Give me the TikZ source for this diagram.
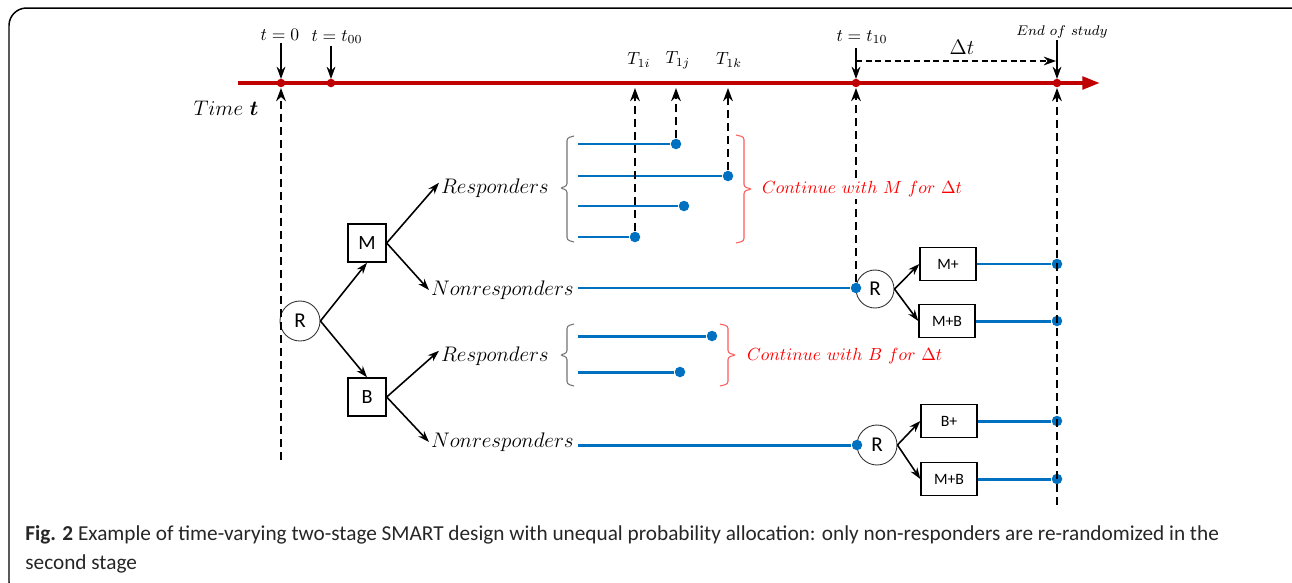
\documentclass[tikz,border=0pt]{standalone}
\usepackage{amsmath}
\usepackage{bm}
\usepackage{fontspec}
\setsansfont{Carlito}
\usetikzlibrary{arrows.meta}
\begin{document}
\begin{tikzpicture}[x=0.02cm,y=-0.02cm,
  axis/.style={draw=caxis,line width=2.3pt},
  flow/.style={draw=cflow,line width=1.7pt},
  bluedot/.style={circle,fill=cflow,inner sep=0pt,minimum size=0.21cm},
  reddot/.style={circle,fill=caxis,inner sep=0pt,minimum size=0.17cm},
  guide/.style={line width=1.6pt,dash pattern=on 4.8pt off 2.6pt,-{Stealth[length=7.5pt,width=5.5pt]}},
  drop/.style={line width=0.9pt,-{Stealth[length=7pt,width=5pt]}},
  branch/.style={line width=0.9pt,-{Stealth[length=6.5pt,width=4.5pt]}},
  randnode/.style={circle,draw=black!80,line width=0.5pt,minimum size=0.8cm,inner sep=0pt,font=\sffamily\fontsize{12}{14}\selectfont},
  trtbox/.style={draw,line width=0.8pt,minimum size=0.76cm,inner sep=0pt,font=\sffamily\fontsize{11.5}{14}\selectfont},
  combbox/.style={draw,line width=0.8pt,minimum width=1.12cm,minimum height=0.66cm,inner sep=0pt,font=\sffamily\fontsize{9}{10}\selectfont},
  grouplab/.style={inner sep=1pt,font=\fontsize{11.5}{14}\selectfont},
  timelab/.style={inner sep=1pt,font=\fontsize{10.3}{12}\selectfont},
  keeplab/.style={inner sep=1pt,fill=white,text=red,anchor=west,font=\fontsize{9.8}{12}\selectfont},
  lbrace/.style={draw=black!55,line width=0.6pt,rounded corners=1.5pt},
  rbrace/.style={draw=red!65,line width=0.6pt,rounded corners=1.5pt}]
\definecolor{caxis}{rgb}{0.753,0.0,0.0}
\definecolor{cflow}{rgb}{0.0,0.439,0.753}
%
\useasboundingbox (0,0) rectangle (1292,582);
\draw[line width=0.85pt,rounded corners=10pt] (9,8) rectangle (1310,600);
%
\coordinate (axs) at (238,83);
\coordinate (axe) at (1100,83);
\draw[axis,-{Triangle[length=10pt,width=7pt]}] (axs) -- (axe);
\node[reddot] (p0) at (281,83) {};
\node[reddot] (p00) at (331,83) {};
\node[reddot] (p10) at (856,83) {};
\node[reddot] (pend) at (1057,83) {};
\node[grouplab] (tlab) at (226,108) {$Time\ \bm{t}$};
%
\node[timelab] (l0) at (280,35) {$t=0$};
\node[timelab] (l00) at (337,37) {$t=t_{00}$};
\node[timelab] (l10) at (862,37) {$t=t_{10}$};
\node[timelab,font=\fontsize{8.3}{10}\selectfont] (lend) at (1062,32) {$End\ of\ study$};
\node[timelab] (l1i) at (639,60) {$T_{1i}$};
\node[timelab] (l1j) at (678,60) {$T_{1j}$};
\node[timelab] (l1k) at (729,60) {$T_{1k}$};
\node[timelab,font=\fontsize{12}{14}\selectfont] (ldt) at (962,47) {$\Delta t$};
\coordinate (d0) at (281,79);
\coordinate (d00) at (331,79);
\coordinate (d10) at (856,79);
\coordinate (dend) at (1057,79);
\draw[drop] (l0.south -| d0) -- (d0);
\draw[drop] (l00.south -| d00) -- (d00);
\draw[drop] (856,48) -- (d10);
\draw[drop] (lend.south -| dend) -- (dend);
\coordinate (dts) at (856,61);
\coordinate (dte) at (1056,61);
\draw[line width=0.9pt,dash pattern=on 3.5pt off 2pt,-{Stealth[length=7pt,width=5pt]}] (dts) -- (dte);
%
\node[randnode] (r0) at (300,321) {R};
\node[trtbox] (m) at (367,243) {M};
\node[trtbox] (b) at (367,397) {B};
\node[grouplab,anchor=west] (respm) at (439,188) {$Responders$};
\node[grouplab,anchor=west] (nonm) at (429,290) {$Nonresponders$};
\node[grouplab,anchor=west] (respb) at (439,356) {$Responders$};
\node[grouplab,anchor=west] (nonb) at (429,442) {$Nonresponders$};
\draw[branch] (r0.east) -- (m.south);
\draw[branch] (r0.east) -- (b.north);
\draw[branch] (m.east) -- ([yshift=3pt]respm.west);
\draw[branch] (m.east) -- (nonm.west);
\draw[branch] (b.east) -- ([yshift=3pt]respb.west);
\draw[branch] (b.east) -- (nonb.west);
%
\coordinate (g0) at (281,460);
\coordinate (a0) at (281,88);
\draw[guide] (g0) -- (a0);
%
\coordinate (s1) at (578,144);
\coordinate (s2) at (578,176);
\coordinate (s3) at (578,206);
\coordinate (s4) at (578,237);
\node[bluedot] (e1) at (676,144) {};
\node[bluedot] (e2) at (728,176) {};
\node[bluedot] (e3) at (684,206) {};
\node[bluedot] (e4) at (635,237) {};
\foreach \k in {1,...,4}
  \draw[flow] (s\k) -- (e\k);
\coordinate (a1i) at (635,88);
\coordinate (a1j) at (676,88);
\coordinate (a1k) at (728,88);
\draw[guide] (e4) -- (a1i);
\draw[guide] (e1) -- (a1j);
\draw[guide] (e2) -- (a1k);
\draw[lbrace] (574,136) -- (567,138) -- (567,186) -- (560,188) -- (567,190) -- (567,240) -- (574,242);
\draw[rbrace] (736,135) -- (744,137) -- (744,187) -- (752,189) -- (744,191) -- (744,241) -- (736,243);
%
\coordinate (s5) at (578,336);
\coordinate (s6) at (578,372);
\node[bluedot] (e5) at (712,336) {};
\node[bluedot] (e6) at (680,372) {};
\draw[flow] (s5) -- (e5);
\draw[flow] (s6) -- (e6);
\draw[lbrace] (574,324) -- (567,326) -- (567,353) -- (560,355) -- (567,357) -- (567,384) -- (574,386);
\draw[rbrace] (720,324) -- (728,326) -- (728,353) -- (736,355) -- (728,357) -- (728,384) -- (720,386);
\node[keeplab] (keepb) at (745,356) {$Continue\ with\ B\ for\ \Delta t$};
%
\node[randnode,minimum size=0.76cm] (r1) at (875,289) {R};
\node[combbox] (mp) at (948,264) {M+};
\node[combbox] (mpb1) at (947,321) {M+B};
\coordinate (sn1) at (578,288);
\node[bluedot] (en1) at (856,288) {};
\draw[flow] (sn1) -- (en1);
\coordinate (a10) at (856,88);
\draw[guide] (en1) -- (a10);
\draw[branch] (r1.east) -- (mp.west);
\draw[branch] (r1.east) -- (mpb1.west);
\node[keeplab] (keepm) at (760,189) {$Continue\ with\ M\ for\ \Delta t$};
%
\node[randnode] (r2) at (877,445) {R};
\node[combbox] (bp) at (949,421) {B+};
\node[combbox] (mpb2) at (949,479) {M+B};
\coordinate (sn2) at (578,445);
\node[bluedot] (en2) at (857,445) {};
\draw[flow] (sn2) -- (en2);
\draw[branch] (r2.east) -- (bp.west);
\draw[branch] (r2.east) -- (mpb2.west);
%
\node[bluedot] (f1) at (1057,264) {};
\node[bluedot] (f2) at (1057,321) {};
\node[bluedot] (f3) at (1057,421) {};
\node[bluedot] (f4) at (1057,479) {};
\draw[flow] (mp.east) -- (f1);
\draw[flow] (mpb1.east) -- (f2);
\draw[flow] (bp.east) -- (f3);
\draw[flow] (mpb2.east) -- (f4);
\coordinate (gend) at (1057,505);
\coordinate (aend) at (1057,88);
\draw[guide] (gend) -- (aend);
%
\node[anchor=north west,align=left,inner sep=0pt,text=black!85,font=\sffamily\fontsize{12.1}{16.5}\selectfont] (cap) at (25,525)
  {\textbf{Fig. 2} Example of time-varying two-stage SMART design with unequal probability allocation: only non-responders are re-randomized in the\\second stage};
\end{tikzpicture}
\end{document}
